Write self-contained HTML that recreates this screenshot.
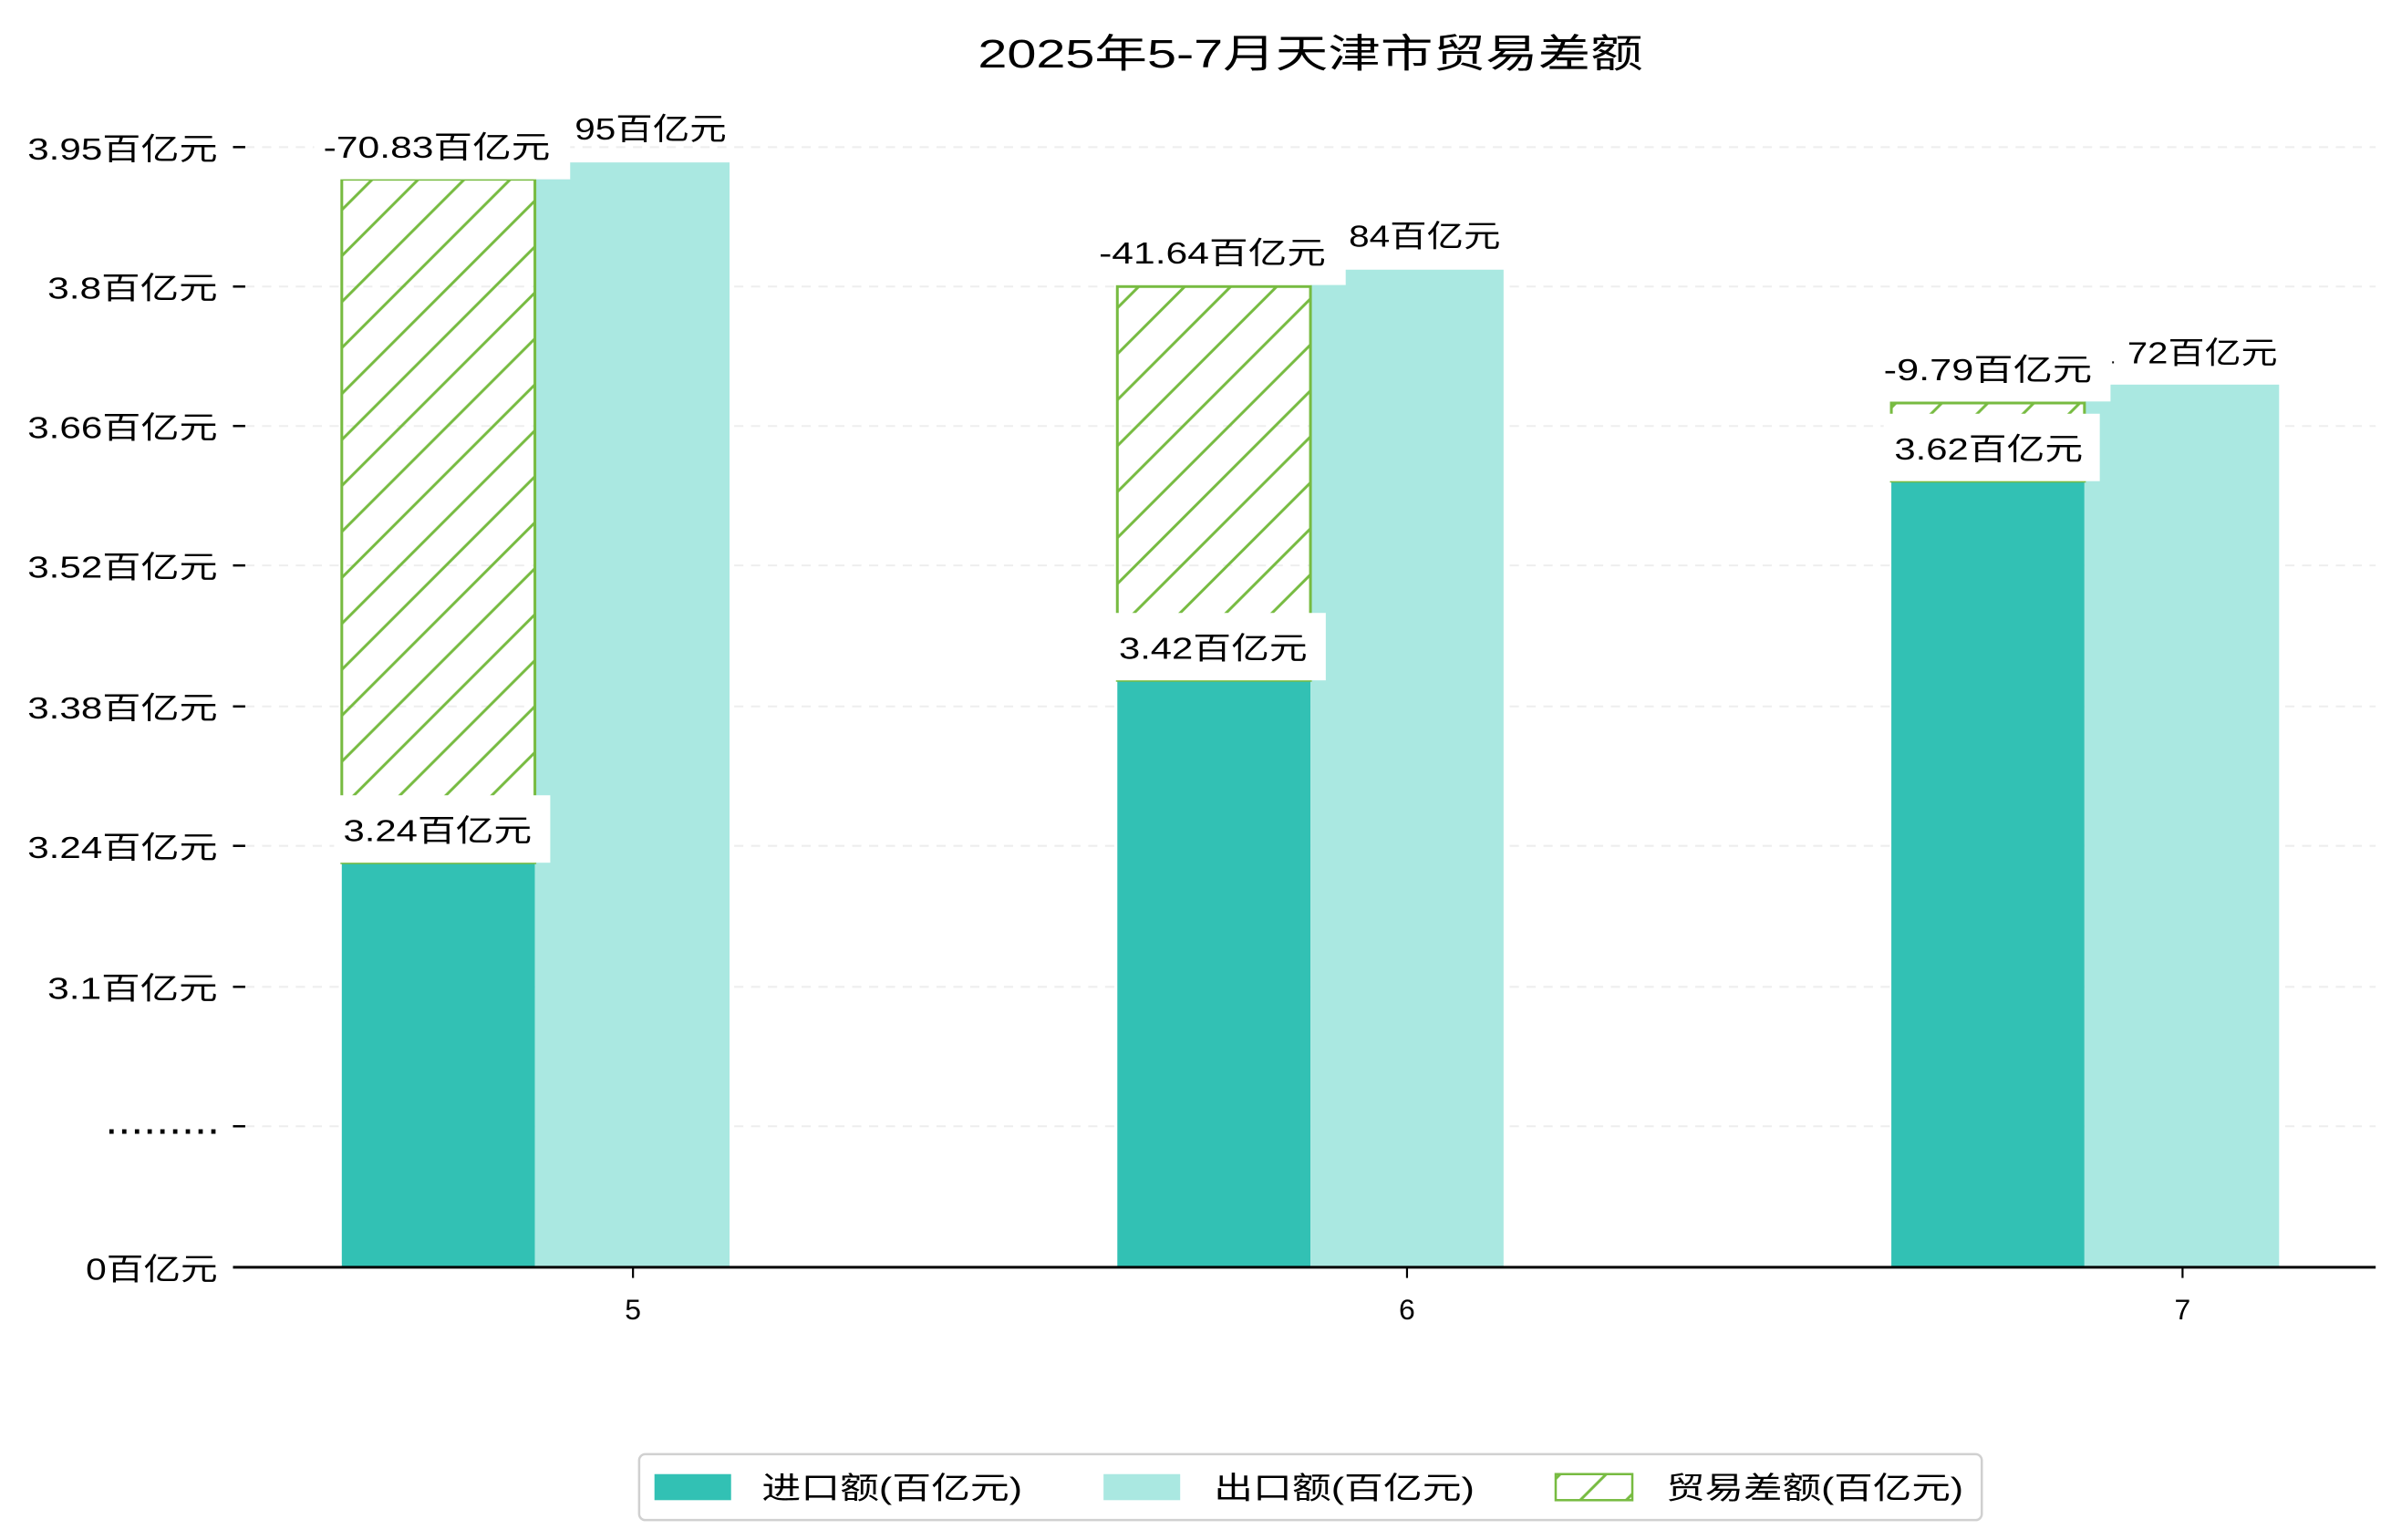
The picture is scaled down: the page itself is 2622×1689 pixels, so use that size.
<!DOCTYPE html>
<html><head><meta charset="utf-8"><style>
html,body{margin:0;padding:0;background:#fff}
svg{display:block}
text{font-family:"Liberation Sans","Noto Sans CJK SC","WenQuanYi Zen Hei",sans-serif;fill:#000}
</style></head><body>
<svg width="2622" height="1689" viewBox="0 0 1560 1005" preserveAspectRatio="none" xmlns="http://www.w3.org/2000/svg">
<defs>
<pattern id="h" patternUnits="userSpaceOnUse" width="30" height="30">
<path d="M-5,5 L5,-5 M0,30 L30,0 M25,35 L35,25" stroke="#77bb41" stroke-width="1.8"/>
</pattern>
</defs>
<text x="638" y="44" font-size="26" textLength="434" lengthAdjust="spacingAndGlyphs">2025年5-7月天津市贸易差额</text>
<g stroke="#eeeeee" stroke-width="1.2" stroke-dasharray="6,5">
<line x1="160" y1="96" x2="1550" y2="96"/><line x1="160" y1="187" x2="1550" y2="187"/>
<line x1="160" y1="278" x2="1550" y2="278"/><line x1="160" y1="369" x2="1550" y2="369"/>
<line x1="160" y1="461" x2="1550" y2="461"/><line x1="160" y1="552" x2="1550" y2="552"/>
<line x1="160" y1="644" x2="1550" y2="644"/><line x1="160" y1="735" x2="1550" y2="735"/>
</g>
<g font-size="20" lengthAdjust="spacingAndGlyphs">
<text x="18" y="104" textLength="124" lengthAdjust="spacingAndGlyphs">3.95百亿元</text>
<text x="31" y="195" textLength="111" lengthAdjust="spacingAndGlyphs">3.8百亿元</text>
<text x="18" y="286" textLength="124" lengthAdjust="spacingAndGlyphs">3.66百亿元</text>
<text x="18" y="377" textLength="124" lengthAdjust="spacingAndGlyphs">3.52百亿元</text>
<text x="18" y="469" textLength="124" lengthAdjust="spacingAndGlyphs">3.38百亿元</text>
<text x="18" y="560" textLength="124" lengthAdjust="spacingAndGlyphs">3.24百亿元</text>
<text x="31" y="652" textLength="111" lengthAdjust="spacingAndGlyphs">3.1百亿元</text>
<text x="70" y="740" textLength="72" lengthAdjust="spacing" font-weight="bold">.........</text>
<text x="56" y="835" textLength="86" lengthAdjust="spacingAndGlyphs">0百亿元</text>
</g>
<g stroke="#000" stroke-width="1.5">
<line x1="152" y1="96" x2="160" y2="96"/><line x1="152" y1="187" x2="160" y2="187"/>
<line x1="152" y1="278" x2="160" y2="278"/><line x1="152" y1="369" x2="160" y2="369"/>
<line x1="152" y1="461" x2="160" y2="461"/><line x1="152" y1="552" x2="160" y2="552"/>
<line x1="152" y1="644" x2="160" y2="644"/><line x1="152" y1="735" x2="160" y2="735"/>
</g>
<rect x="223" y="563" width="126" height="264" fill="#32c1b4"/>
<rect x="349" y="106" width="127" height="721" fill="#aae8e1"/>
<rect x="223" y="117" width="126" height="446" fill="url(#h)" stroke="#77bb41" stroke-width="1.8"/>
<rect x="729" y="444" width="126" height="383" fill="#32c1b4"/>
<rect x="855" y="176" width="126" height="651" fill="#aae8e1"/>
<rect x="729" y="187" width="126" height="257" fill="url(#h)" stroke="#77bb41" stroke-width="1.8"/>
<rect x="1234" y="314" width="126" height="513" fill="#32c1b4"/>
<rect x="1360" y="251" width="127" height="576" fill="#aae8e1"/>
<rect x="1234" y="263" width="126" height="51" fill="url(#h)" stroke="#77bb41" stroke-width="1.8"/>
<g font-size="20">
<rect x="218" y="519" width="141" height="44" fill="#fff"/><text x="224" y="549" textLength="123" lengthAdjust="spacingAndGlyphs">3.24百亿元</text>
<rect x="205" y="74" width="167" height="43" fill="#fff"/><text x="211" y="103" textLength="148" lengthAdjust="spacingAndGlyphs">-70.83百亿元</text>
<text x="375" y="91" textLength="99" lengthAdjust="spacingAndGlyphs">95百亿元</text>
<rect x="723" y="400" width="142" height="44" fill="#fff"/><text x="730" y="430" textLength="123" lengthAdjust="spacingAndGlyphs">3.42百亿元</text>
<rect x="710" y="143" width="168" height="43" fill="#fff"/><text x="717" y="172" textLength="148" lengthAdjust="spacingAndGlyphs">-41.64百亿元</text>
<text x="880" y="161" textLength="99" lengthAdjust="spacingAndGlyphs">84百亿元</text>
<rect x="1229" y="270" width="141" height="44" fill="#fff"/><text x="1236" y="300" textLength="123" lengthAdjust="spacingAndGlyphs">3.62百亿元</text>
<rect x="1222" y="219" width="155" height="43" fill="#fff"/><text x="1229" y="248" textLength="136" lengthAdjust="spacingAndGlyphs">-9.79百亿元</text>
<text x="1377" y="237" font-size="12">.</text><text x="1388" y="237" textLength="98" lengthAdjust="spacingAndGlyphs">72百亿元</text>
</g>
<line x1="152" y1="827" x2="1550" y2="827" stroke="#000" stroke-width="1.8"/>
<g stroke="#000" stroke-width="1.3"><line x1="413" y1="827" x2="413" y2="834"/><line x1="918" y1="827" x2="918" y2="834"/><line x1="1424" y1="827" x2="1424" y2="834"/></g>
<g font-size="19" text-anchor="middle"><text x="413" y="861">5</text><text x="918" y="861">6</text><text x="1424" y="861">7</text></g>
<rect x="417" y="949" width="876" height="43" rx="4" fill="#fff" stroke="#d0d0d0" stroke-width="1.5"/>
<rect x="427" y="962" width="50" height="17" fill="#32c1b4"/>
<text x="497" y="978" font-size="20" textLength="170" lengthAdjust="spacingAndGlyphs">进口额(百亿元)</text>
<rect x="720" y="962" width="50" height="17" fill="#aae8e1"/>
<text x="792" y="978" font-size="20" textLength="170" lengthAdjust="spacingAndGlyphs">出口额(百亿元)</text>
<rect x="1015" y="962" width="50" height="17" fill="url(#h)" stroke="#77bb41" stroke-width="1.5"/>
<text x="1087" y="978" font-size="20" textLength="194" lengthAdjust="spacingAndGlyphs">贸易差额(百亿元)</text>
</svg>
</body></html>
